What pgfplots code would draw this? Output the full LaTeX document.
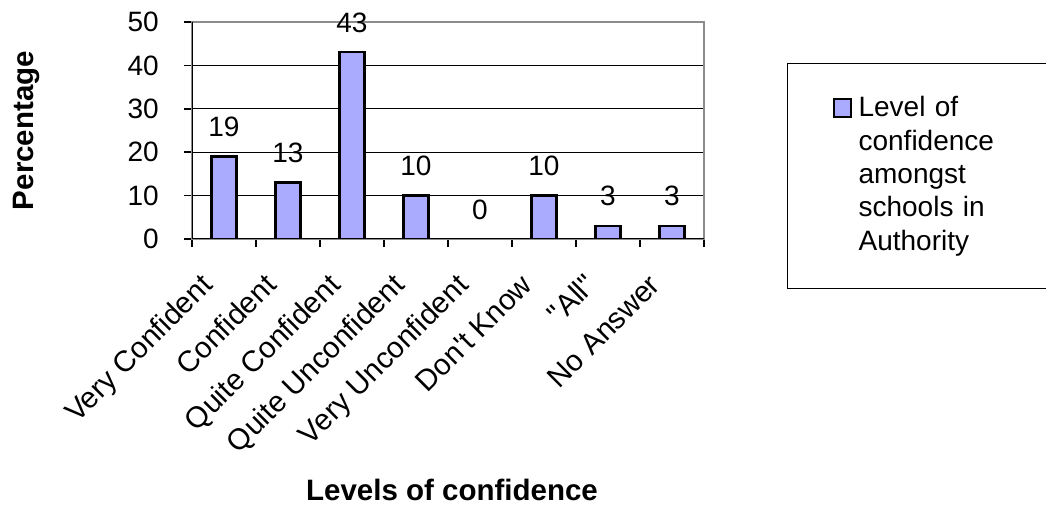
\documentclass[border=0pt]{standalone}
\usepackage{fontspec}
\setmainfont{Liberation Sans}
\usepackage{pgfplots}
\pgfplotsset{compat=1.18}
\definecolor{barblue}{RGB}{170,170,255}
\definecolor{bordergray}{RGB}{140,140,140}
\newcommand\fr{\fontsize{28bp}{33.3bp}\selectfont}
\newcommand\fx{\fontsize{29.5bp}{34bp}\selectfont}
\newcommand\fb{\fontsize{29.5bp}{34bp}\selectfont\bfseries}
\begin{document}
\begin{tikzpicture}
\useasboundingbox (0,0) rectangle (1046bp,506bp);
\begin{axis}[
  at={(192bp,267bp)}, anchor=south west,
  scale only axis, width=512bp, height=217bp,
  xmin=-0.5, xmax=7.5, ymin=0, ymax=50,
  ybar, bar width=25bp,
  ytick={0,10,20,30,40,50},
  xtick={-0.5,0.5,1.5,2.5,3.5,4.5,5.5,6.5,7.5}, xticklabels={},
  extra x ticks={0,1,2,3,4,5,6,7},
  extra x tick labels={Very Confident, Confident, Quite Confident, Quite Unconfident, Very Unconfident, Don\textquotesingle t Know, \textquotedbl All\textquotedbl, No Answer},
  extra x tick style={major tick length=0pt,
    x tick label style={font=\fx, anchor=base east, inner sep=0pt, xshift=-10bp, yshift=-48bp, rotate=45}},
  tick align=outside, tick pos=left, major tick length=8bp,
  tick style={black, line width=1.5bp},
  ymajorgrids, grid style={black, line width=1.2bp},
  axis line style={bordergray, line width=2bp},
  /pgf/number format/assume math mode=true,
  y tick label style={font=\fr, anchor=east, inner sep=0pt, xshift=-25bp},
  xlabel={Levels of confidence},
  xlabel style={font=\fb, at={(axis description cs:0.5078,-1.2028)}, anchor=base},
  ylabel={Percentage},
  ylabel style={font=\fb, at={(axis description cs:-0.3105,0.5)}, anchor=base},
  legend style={at={(1.1621,0.8111)}, anchor=north west, draw=black, line width=1.2bp,
    inner xsep=45bp, inner ysep=31bp, column sep=5bp, cells={anchor=base west}, fill=white},
  legend image code/.code={\draw[#1, line width=2bp] (0bp,0bp) rectangle (17bp,18bp);},
]
\addplot[fill=barblue, draw=black, line width=2.2bp,
  nodes near coords,
  nodes near coords style={font=\fr, anchor=base, yshift=20bp, inner sep=0pt, text=black}]
  coordinates {(0,19) (1,13) (2,43) (3,10) (4,0) (5,10) (6,3) (7,3)};
\addlegendentry[text width=200bp, align=left, font=\fr, inner sep=2bp, text depth=]{Level of\\confidence\\amongst\\schools in\\Authority}
\draw[black, line width=2bp] (rel axis cs:0,1) -- (rel axis cs:0,0) -- (rel axis cs:1,0);
\end{axis}
\end{tikzpicture}
\end{document}
